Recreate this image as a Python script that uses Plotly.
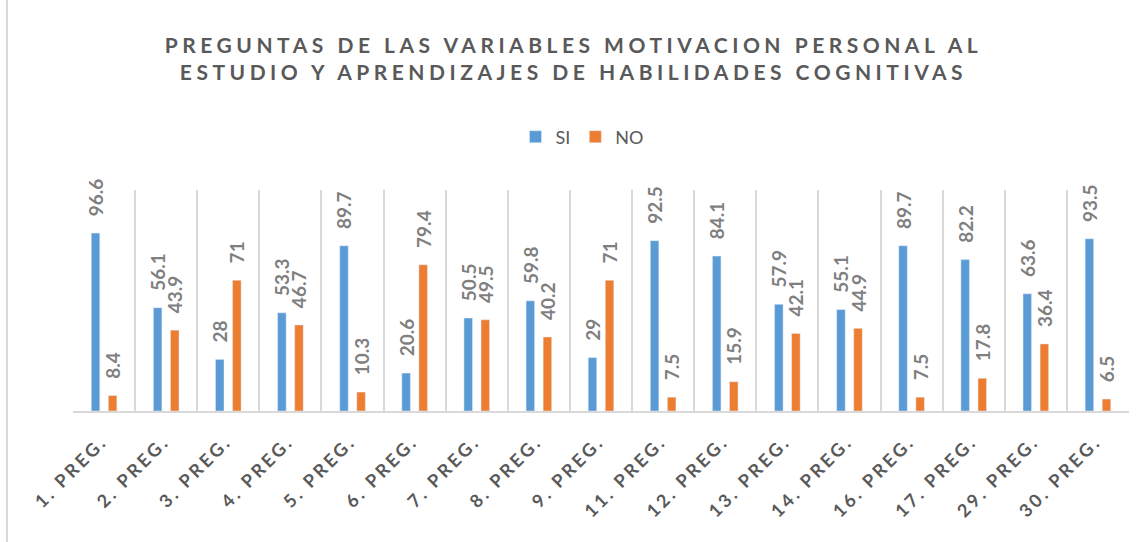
import plotly.graph_objects as go

categories = ["1. PREG.", "2. PREG.", "3. PREG.", "4. PREG.", "5. PREG.", "6. PREG.",
              "7. PREG.", "8. PREG.", "9. PREG.", "11. PREG.", "12. PREG.", "13. PREG.",
              "14. PREG.", "16. PREG.", "17. PREG.", "29. PREG.", "30. PREG."]
si_values = [96.6, 56.1, 28, 53.3, 89.7, 20.6, 50.5, 59.8, 29, 92.5, 84.1, 57.9, 55.1, 89.7, 82.2, 63.6, 93.5]
no_values = [8.4, 43.9, 71, 46.7, 10.3, 79.4, 49.5, 40.2, 71, 7.5, 15.9, 42.1, 44.9, 7.5, 17.8, 36.4, 6.5]

FONT = "Lato"
GRAY = "#595959"
LABEL_GRAY = "#7F7F7F"

fig = go.Figure()
for name, vals, color in [("SI", si_values, "#5B9BD5"), ("NO", no_values, "#ED7D31")]:
    fig.add_trace(go.Bar(
        x=categories, y=vals, name=name, marker_color=color,
        text=vals, texttemplate="\u00a0\u00a0\u00a0%{text}", textposition="outside",
        textangle=-90, constraintext="none", cliponaxis=False,
        textfont=dict(family=FONT, size=19, color=LABEL_GRAY, weight="bold"),
    ))

fig.update_layout(
    width=1147, height=542,
    margin=dict(l=73, r=18, t=190, b=131),
    paper_bgcolor="white", plot_bgcolor="white",
    barmode="group", bargap=0.45, bargroupgap=0.5,
    title=dict(
        text="PREGUNTAS DE LAS VARIABLES MOTIVACION PERSONAL AL<br>ESTUDIO Y APRENDIZAJES DE HABILIDADES COGNITIVAS",
        x=0.5, xanchor="center", y=1 - 53 / 542, yanchor="top", yref="container",
        font=dict(family=FONT, size=21, color=GRAY, weight="bold"),
    ),
    legend=dict(orientation="h", x=0.482, xanchor="center", y=(411 - 137) / 221, yanchor="middle",
                font=dict(family=FONT, size=18, color=GRAY), itemwidth=30, traceorder="normal"),
    xaxis=dict(
        tickson="boundaries", showgrid=True, gridcolor="#D9D9D9", gridwidth=1.5,
        showline=True, linecolor="#D9D9D9", linewidth=2,
        ticks="", ticklabelstandoff=11, ticklabelshift=-2,
        tickangle=-45, tickfont=dict(family=FONT, size=18, color=GRAY, weight="bold"),
    ),
    yaxis=dict(range=[0, 120], showgrid=False, showticklabels=False, zeroline=False, showline=False),
    shapes=[dict(type="line", xref="paper", yref="paper",
                 x0=(7 - 73) / 1056, x1=(7 - 73) / 1056, y0=-2, y1=3,
                 line=dict(color="#D9D9D9", width=2))],
)

post = """
document.body.style.margin='0';
document.querySelectorAll('.gtitle').forEach(function(e){e.style.letterSpacing='4.5px';});
document.querySelectorAll('.xtick text').forEach(function(e){e.style.letterSpacing='3px';});
"""
fig.write_html("out.html", post_script=post, config={"displayModeBar": False})
